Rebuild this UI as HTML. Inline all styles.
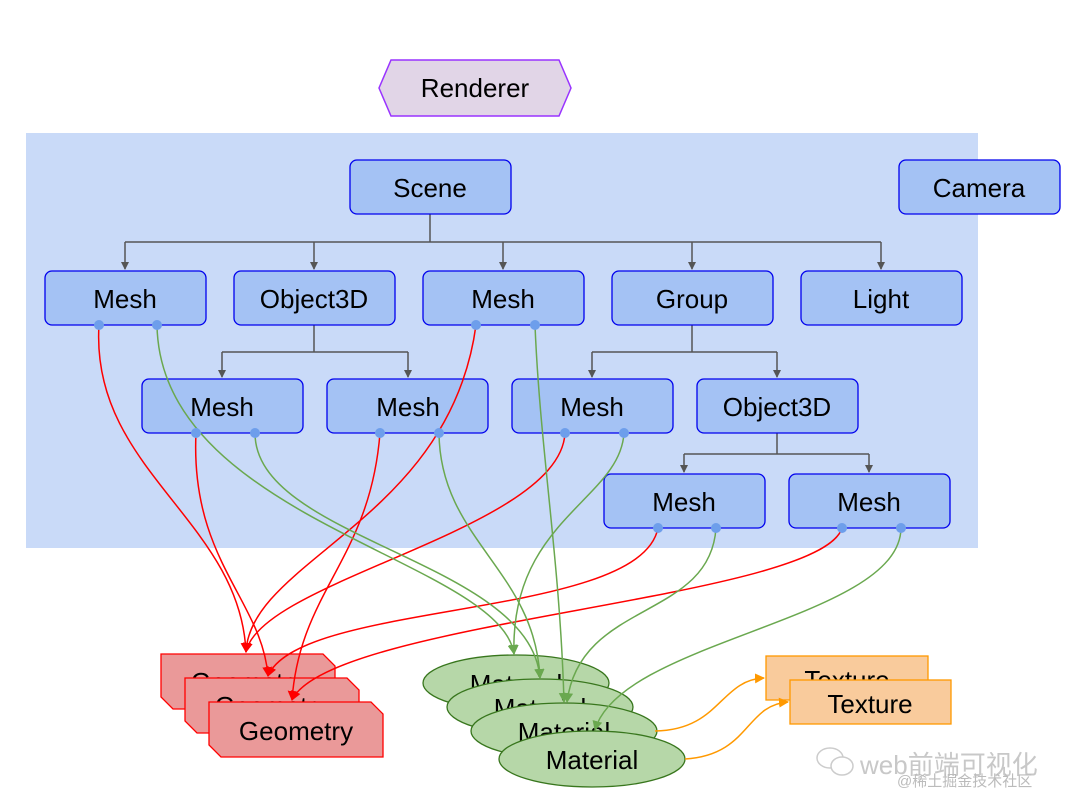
<!DOCTYPE html>
<html><head><meta charset="utf-8"><style>
html,body{margin:0;padding:0;background:#fff;}
svg{display:block;}
text{font-family:"Liberation Sans","Noto Sans CJK SC",sans-serif;}
</style></head><body>
<svg width="1080" height="812" viewBox="0 0 1080 812" xmlns="http://www.w3.org/2000/svg">
<defs>
<marker id="ag" markerWidth="8" markerHeight="8" refX="7" refY="4" orient="auto" markerUnits="userSpaceOnUse"><path d="M0,0 L8,4 L0,8 z" fill="#555"/></marker>
<marker id="ar" markerWidth="10" markerHeight="10" refX="9" refY="5" orient="auto" markerUnits="userSpaceOnUse"><path d="M0,0 L10,5 L0,10 z" fill="#ff0000"/></marker>
<marker id="agr" markerWidth="10" markerHeight="10" refX="9" refY="5" orient="auto" markerUnits="userSpaceOnUse"><path d="M0,0 L10,5 L0,10 z" fill="#6aa84f"/></marker>
<marker id="ao" markerWidth="10" markerHeight="10" refX="9" refY="5" orient="auto" markerUnits="userSpaceOnUse"><path d="M0,0 L10,5 L0,10 z" fill="#ff9900"/></marker>
</defs>
<rect x="0" y="0" width="1080" height="812" fill="#fff"/>
<polygon points="391,60 559,60 571,88 559,116 391,116 379,88" fill="#e1d5e7" stroke="#9933ff" stroke-width="1.5"/>
<text x="475" y="97" font-size="26" text-anchor="middle">Renderer</text>
<rect x="26" y="133" width="952" height="415" fill="#c9daf8"/>
<g stroke="#555" stroke-width="1.5" fill="none">
<path d="M430,214 V242 M125,242 H881"/>
<path d="M125,242 V269" marker-end="url(#ag)"/><path d="M314,242 V269" marker-end="url(#ag)"/><path d="M503,242 V269" marker-end="url(#ag)"/><path d="M692,242 V269" marker-end="url(#ag)"/><path d="M881,242 V269" marker-end="url(#ag)"/>
<path d="M314,325 V352 M222,352 H408"/><path d="M222,352 V377" marker-end="url(#ag)"/><path d="M408,352 V377" marker-end="url(#ag)"/>
<path d="M692,325 V352 M592,352 H777"/><path d="M592,352 V377" marker-end="url(#ag)"/><path d="M777,352 V377" marker-end="url(#ag)"/>
<path d="M777,433 V454 M684,454 H869"/><path d="M684,454 V472" marker-end="url(#ag)"/><path d="M869,454 V472" marker-end="url(#ag)"/>
</g>
<g fill="#a4c2f4" stroke="#0000ee" stroke-width="1.3">
<rect x="350" y="160" width="161" height="54" rx="7"/>
<rect x="899" y="160" width="161" height="54" rx="7"/>
<rect x="45" y="271" width="161" height="54" rx="7"/>
<rect x="234" y="271" width="161" height="54" rx="7"/>
<rect x="423" y="271" width="161" height="54" rx="7"/>
<rect x="612" y="271" width="161" height="54" rx="7"/>
<rect x="801" y="271" width="161" height="54" rx="7"/>
<rect x="142" y="379" width="161" height="54" rx="7"/>
<rect x="327" y="379" width="161" height="54" rx="7"/>
<rect x="512" y="379" width="161" height="54" rx="7"/>
<rect x="697" y="379" width="161" height="54" rx="7"/>
<rect x="604" y="474" width="161" height="54" rx="7"/>
<rect x="789" y="474" width="161" height="54" rx="7"/>
</g>
<g font-size="26" text-anchor="middle">
<text x="430" y="197">Scene</text><text x="979" y="197">Camera</text>
<text x="125" y="308">Mesh</text><text x="314" y="308">Object3D</text><text x="503" y="308">Mesh</text><text x="692" y="308">Group</text><text x="881" y="308">Light</text>
<text x="222" y="416">Mesh</text><text x="408" y="416">Mesh</text><text x="592" y="416">Mesh</text><text x="777" y="416">Object3D</text>
<text x="684" y="511">Mesh</text><text x="869" y="511">Mesh</text>
</g>
<!-- geometries -->
<g stroke="#ff0000" stroke-width="1.3" font-size="26" text-anchor="middle">
<polygon points="161,654 323,654 335,666 335,709 173,709 161,697" fill="#ea9999"/><text x="248" y="691" stroke="none">Geometry</text>
<polygon points="185,678 347,678 359,690 359,733 197,733 185,721" fill="#ea9999"/><text x="272" y="715" stroke="none">Geometry</text>
<polygon points="209,702 371,702 383,714 383,757 221,757 209,745" fill="#ea9999"/><text x="296" y="740" stroke="none">Geometry</text>
</g>
<!-- materials -->
<g stroke="#38761d" stroke-width="1.3" font-size="26" text-anchor="middle">
<ellipse cx="516" cy="683" rx="93" ry="28" fill="#b6d7a8"/><text x="516" y="693" stroke="none">Material</text>
<ellipse cx="540" cy="707" rx="93" ry="28" fill="#b6d7a8"/><text x="540" y="717" stroke="none">Material</text>
<ellipse cx="564" cy="731" rx="93" ry="28" fill="#b6d7a8"/><text x="564" y="741" stroke="none">Material</text>
<ellipse cx="592" cy="759" rx="93" ry="28" fill="#b6d7a8"/><text x="592" y="769" stroke="none">Material</text>
</g>
<!-- textures -->
<g stroke="#ff9900" stroke-width="1.3" font-size="26" text-anchor="middle">
<rect x="766" y="656" width="162" height="44" fill="#f9cb9c"/><text x="847" y="689" stroke="none">Texture</text>
<rect x="790" y="680" width="161" height="44" fill="#f9cb9c"/><text x="870" y="713" stroke="none">Texture</text>
</g>
<!-- red curves -->
<g stroke="#ff0000" stroke-width="1.5" fill="none">
<path d="M99,325 C90,470 240,520 246,652" marker-end="url(#ar)"/>
<path d="M196,433 C190,560 262,600 268,676" marker-end="url(#ar)"/>
<path d="M476,325 C450,520 250,560 246,652" marker-end="url(#ar)"/>
<path d="M380,433 C370,560 300,590 292,700" marker-end="url(#ar)"/>
<path d="M565,433 C560,530 260,580 246,652" marker-end="url(#ar)"/>
<path d="M658,528 C640,620 300,600 268,676" marker-end="url(#ar)"/>
<path d="M842,528 C820,600 330,620 292,700" marker-end="url(#ar)"/>
</g>
<!-- green curves -->
<g stroke="#6aa84f" stroke-width="1.5" fill="none">
<path d="M157,325 C160,520 500,560 514,654" marker-end="url(#agr)"/>
<path d="M255,433 C255,540 530,560 540,678" marker-end="url(#agr)"/>
<path d="M439,433 C440,540 535,570 540,678" marker-end="url(#agr)"/>
<path d="M535,325 C540,450 560,560 564,702" marker-end="url(#agr)"/>
<path d="M624,433 C620,500 510,520 514,654" marker-end="url(#agr)"/>
<path d="M716,528 C710,620 580,600 567,702" marker-end="url(#agr)"/>
<path d="M901,528 C900,620 620,640 595,730" marker-end="url(#agr)"/>
</g>
<g stroke="#ff9900" stroke-width="1.5" fill="none">
<path d="M655,731 C720,730 720,680 764,678" marker-end="url(#ao)"/>
<path d="M685,759 C750,755 745,705 788,702" marker-end="url(#ao)"/>
</g>
<g fill="#6d9eeb">
<circle cx="99" cy="325" r="5"/><circle cx="157" cy="325" r="5"/>
<circle cx="476" cy="325" r="5"/><circle cx="535" cy="325" r="5"/>
<circle cx="196" cy="433" r="5"/><circle cx="255" cy="433" r="5"/>
<circle cx="380" cy="433" r="5"/><circle cx="439" cy="433" r="5"/>
<circle cx="565" cy="433" r="5"/><circle cx="624" cy="433" r="5"/>
<circle cx="658" cy="528" r="5"/><circle cx="716" cy="528" r="5"/>
<circle cx="842" cy="528" r="5"/><circle cx="901" cy="528" r="5"/>
</g>
<g fill="none" stroke="#ccc" stroke-width="1.5">
<ellipse cx="830" cy="758" rx="13" ry="10"/><ellipse cx="842" cy="766" rx="11" ry="9" fill="#fff"/>
</g>
<text x="860" y="774" font-size="26" fill="#c8c8c8">web前端可视化</text>
<text x="897" y="786" font-size="15" fill="#bbb">@稀土掘金技术社区</text>
</svg>
</body></html>
